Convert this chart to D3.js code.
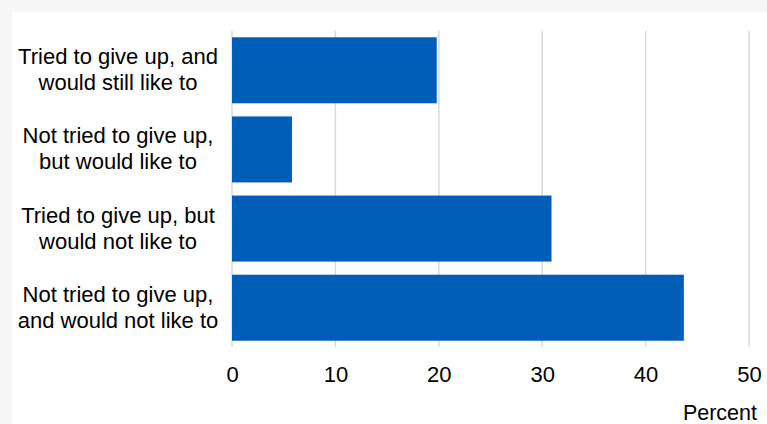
<!DOCTYPE html>
<html>
<head>
<meta charset="utf-8">
<script src="https://cdn.jsdelivr.net/npm/d3@7"></script>
<style>
  html, body { margin: 0; padding: 0; background: #f7f7f7; }
  svg { display: block; }
  text { font-family: "Liberation Sans", Arial, sans-serif; fill: #000; }
</style>
</head>
<body>
<svg id="chart" width="767" height="424"></svg>
<script>
const categories = [
  ["Tried to give up, and", "would still like to"],
  ["Not tried to give up,", "but would like to"],
  ["Tried to give up, but", "would not like to"],
  ["Not tried to give up,", "and would not like to"]
];
const values = [19.8, 5.8, 30.9, 43.7];
const tickValues = [0, 10, 20, 30, 40, 50];
const axisTitle = "Percent";

const svg = d3.select("#chart");
svg.append("rect").attr("x", 12).attr("y", 12).attr("width", 755).attr("height", 412).attr("fill", "#ffffff");

const x = d3.scaleLinear().domain([0, 50]).range([232, 749]);
const y = d3.scaleBand().domain(d3.range(categories.length)).range([30.7, 347.3])
  .paddingInner(0.166).paddingOuter(0.083);

// gridlines
svg.append("g").selectAll("line").data(tickValues).join("line")
  .attr("x1", d => x(d)).attr("x2", d => x(d))
  .attr("y1", 30.7).attr("y2", 347)
  .attr("stroke", "#d9d9d9").attr("stroke-width", 1.5);

// bars
svg.append("g").selectAll("rect").data(values).join("rect")
  .attr("x", x(0)).attr("y", (d, i) => y(i))
  .attr("width", d => x(d) - x(0)).attr("height", y.bandwidth())
  .attr("fill", "#005EB8");

// x axis labels
const xAxis = d3.axisBottom(x).tickValues(tickValues).tickSize(0).tickPadding(0);
const gx = svg.append("g").attr("transform", "translate(0,382)").call(xAxis);
gx.select(".domain").remove();
gx.selectAll("text").attr("dy", 0).attr("y", 0)
  .style("font-size", "22px").style("font-family", '"Liberation Sans", Arial, sans-serif').attr("fill", "#000");

// category labels
const lab = svg.append("g").selectAll("text").data(categories).join("text")
  .attr("text-anchor", "middle")
  .style("font-size", "22px");
lab.each(function(d, i) {
  const cy = y(i) + y.bandwidth() / 2;
  const t = d3.select(this);
  d.forEach((line, j) => {
    t.append("tspan").attr("x", 118).attr("y", cy - 6 + j * 26).text(line);
  });
});

// axis title
svg.append("text").attr("x", 757).attr("y", 420).attr("text-anchor", "end")
  .style("font-size", "21.5px").text(axisTitle);
</script>
</body>
</html>
